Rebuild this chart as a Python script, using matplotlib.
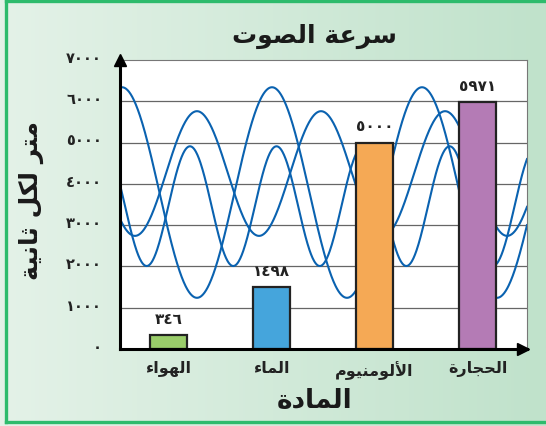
import numpy as np
import matplotlib
matplotlib.use("Agg")
import matplotlib.pyplot as plt
from matplotlib.transforms import ScaledTranslation
from matplotlib.lines import Line2D
from matplotlib.colors import LinearSegmentedColormap

# ---------------- data ----------------
categories = ["الهواء", "الماء", "الألومنيوم", "الحجارة"]
speeds = [346, 1498, 5000, 5971]
bar_colors = ["#9acd6a", "#45a5dc", "#f5a955", "#b47bb5"]
y_ticks = [0, 1000, 2000, 3000, 4000, 5000, 6000, 7000]
title_text = "سرعة الصوت"
ylabel_text = "متر لكل ثانية"
xlabel_text = "المادة"

# decorative background waves (center, amplitude, period, peak position)
wave_centers = [3790, 4250, 3460]
wave_amps = [2550, 1510, 1450]
wave_periods = [1.456, 1.204, 0.840]
wave_peaks = [-0.451, 0.277, 0.209]

# ---------------- Arabic shaping helpers ----------------
FORMS = {
    '\u0621': ('\uFE80', None, None, None),
    '\u0623': ('\uFE83', '\uFE84', None, None),
    '\u0627': ('\uFE8D', '\uFE8E', None, None),
    '\u0629': ('\uFE93', '\uFE94', None, None),
    '\u062A': ('\uFE95', '\uFE96', '\uFE97', '\uFE98'),
    '\u062B': ('\uFE99', '\uFE9A', '\uFE9B', '\uFE9C'),
    '\u062C': ('\uFE9D', '\uFE9E', '\uFE9F', '\uFEA0'),
    '\u062D': ('\uFEA1', '\uFEA2', '\uFEA3', '\uFEA4'),
    '\u062F': ('\uFEA9', '\uFEAA', None, None),
    '\u0631': ('\uFEAD', '\uFEAE', None, None),
    '\u0633': ('\uFEB1', '\uFEB2', '\uFEB3', '\uFEB4'),
    '\u0635': ('\uFEB9', '\uFEBA', '\uFEBB', '\uFEBC'),
    '\u0639': ('\uFEC9', '\uFECA', '\uFECB', '\uFECC'),
    '\u0643': ('\uFED9', '\uFEDA', '\uFEDB', '\uFEDC'),
    '\u0644': ('\uFEDD', '\uFEDE', '\uFEDF', '\uFEE0'),
    '\u0645': ('\uFEE1', '\uFEE2', '\uFEE3', '\uFEE4'),
    '\u0646': ('\uFEE5', '\uFEE6', '\uFEE7', '\uFEE8'),
    '\u0647': ('\uFEE9', '\uFEEA', '\uFEEB', '\uFEEC'),
    '\u0648': ('\uFEED', '\uFEEE', None, None),
    '\u064A': ('\uFEF1', '\uFEF2', '\uFEF3', '\uFEF4'),
}
LAM_ALEF = {'\u0627': ('\uFEFB', '\uFEFC'), '\u0623': ('\uFEF7', '\uFEF8'),
            '\u0625': ('\uFEF9', '\uFEFA'), '\u0622': ('\uFEF5', '\uFEF6')}


def shape(text):
    units = []
    i = 0
    while i < len(text):
        c = text[i]
        if c == '\u0644' and i + 1 < len(text) and text[i + 1] in LAM_ALEF:
            units.append(('LA', text[i + 1]))
            i += 2
        else:
            units.append(('C', c))
            i += 1

    def joins_next(u):
        kind, c = u
        if kind == 'LA':
            return False
        f = FORMS.get(c)
        return f is not None and f[2] is not None

    def joins_prev(u):
        kind, c = u
        if kind == 'LA':
            return True
        f = FORMS.get(c)
        return f is not None and f[1] is not None

    out = []
    for k, u in enumerate(units):
        prev = units[k - 1] if k > 0 else None
        nxt = units[k + 1] if k + 1 < len(units) else None
        cp = prev is not None and joins_next(prev) and joins_prev(u)
        cn = nxt is not None and joins_next(u) and joins_prev(nxt)
        kind, c = u
        if kind == 'LA':
            out.append(LAM_ALEF[c][1 if cp else 0])
        elif c in FORMS:
            f = FORMS[c]
            if cp and cn:
                out.append(f[3])
            elif cp:
                out.append(f[1])
            elif cn:
                out.append(f[2])
            else:
                out.append(f[0])
        else:
            out.append(c)
    return ''.join(reversed(out))


AR_DIGITS = str.maketrans("0123456789", "٠١٢٣٤٥٦٧٨٩")


def ar_num(v):
    return str(v).translate(AR_DIGITS)


plt.rcParams['font.family'] = ['DejaVu Sans']
plt.rcParams['font.weight'] = 'bold'

W, H = 546, 427
fig = plt.figure(figsize=(W / 100, H / 100), dpi=100)

# background gradient
bg = fig.add_axes([0, 0, 1, 1], zorder=-10)
grad = np.linspace(0, 1, 256).reshape(1, -1)
cmap = LinearSegmentedColormap.from_list("bg", ["#e4f2e8", "#c0e2cb"])
bg.imshow(grad, aspect='auto', cmap=cmap, extent=[0, 1, 0, 1])
bg.set_xlim(0, 1)
bg.set_ylim(0, 1)
bg.axis('off')
border = "#2dbb6c"
bw = 2.4
bg.add_line(Line2D([5.5 / W, 5.5 / W], [1 - 422.5 / H, 1 - 1.5 / H], color=border, lw=bw))
bg.add_line(Line2D([5.5 / W, 1], [1 - 1.5 / H, 1 - 1.5 / H], color=border, lw=bw))
bg.add_line(Line2D([5.5 / W, 1], [1 - 422.5 / H, 1 - 422.5 / H], color=border, lw=bw))

# main axes
ax = fig.add_axes([120 / W, 1 - 350 / H, 407 / W, 289 / H])
ax.set_facecolor("white")
x = np.arange(len(categories))
ax.set_xlim(-0.47, 3.48)
ax.set_ylim(0, 7000)

for yv in y_ticks[1:-1]:
    ax.axhline(yv, color="#666666", lw=0.9, zorder=1)

xs = np.linspace(-0.47, 3.48, 800)
for c, a, p, pk in zip(wave_centers, wave_amps, wave_periods, wave_peaks):
    ax.plot(xs, c + a * np.cos(2 * np.pi * (xs - pk) / p), color="#0a62b0", lw=1.5, zorder=2)

ax.bar(x, speeds, width=0.36, color=bar_colors, edgecolor="#222222", linewidth=1.6, zorder=3)

for xi, v in zip(x, speeds):
    ax.annotate(ar_num(v), (xi, v), xytext=(0, 12), textcoords='offset points',
                ha='center', va='center', fontsize=11, fontweight='bold', color="#222222")

for side in ['top', 'right']:
    ax.spines[side].set_color("#777777")
    ax.spines[side].set_linewidth(0.8)
for side in ['left', 'bottom']:
    ax.spines[side].set_color("black")
    ax.spines[side].set_linewidth(2.2)
    ax.spines[side].set_zorder(5)

# arrows
ax.plot([-0.47], [7000], marker='^', color='black', ms=9, clip_on=False, zorder=6)
ax.plot([3.44], [0], marker='>', color='black', ms=9, clip_on=False, zorder=6)

ax.set_yticks(y_ticks)
ax.set_yticklabels([ar_num(t) for t in y_ticks], fontsize=10.5, fontweight='bold', color="#222222")
ax.set_xticks(x)
ax.set_xticklabels([shape(c) for c in categories], fontsize=11.5, fontweight='bold', color="#222222")
ax.tick_params(axis='y', length=0, pad=13)
ax.tick_params(axis='x', length=0, pad=8)
for lbl in ax.get_yticklabels():
    lbl.set_transform(lbl.get_transform() + ScaledTranslation(0, 3 / 72, fig.dpi_scale_trans))

fig.text(314 / W, 1 - 36 / H, shape(title_text), ha='center', va='center',
         fontsize=18, fontweight='bold', color="#1a1a1a")
fig.text(315 / W, 1 - 401 / H, shape(xlabel_text), ha='center', va='center',
         fontsize=19, fontweight='bold', color="#1a1a1a")
fig.text(31 / W, 1 - 200 / H, shape(ylabel_text), ha='center', va='center', rotation=90,
         fontsize=18, fontweight='bold', color="#1a1a1a")

fig.savefig("out.png", dpi=100)
